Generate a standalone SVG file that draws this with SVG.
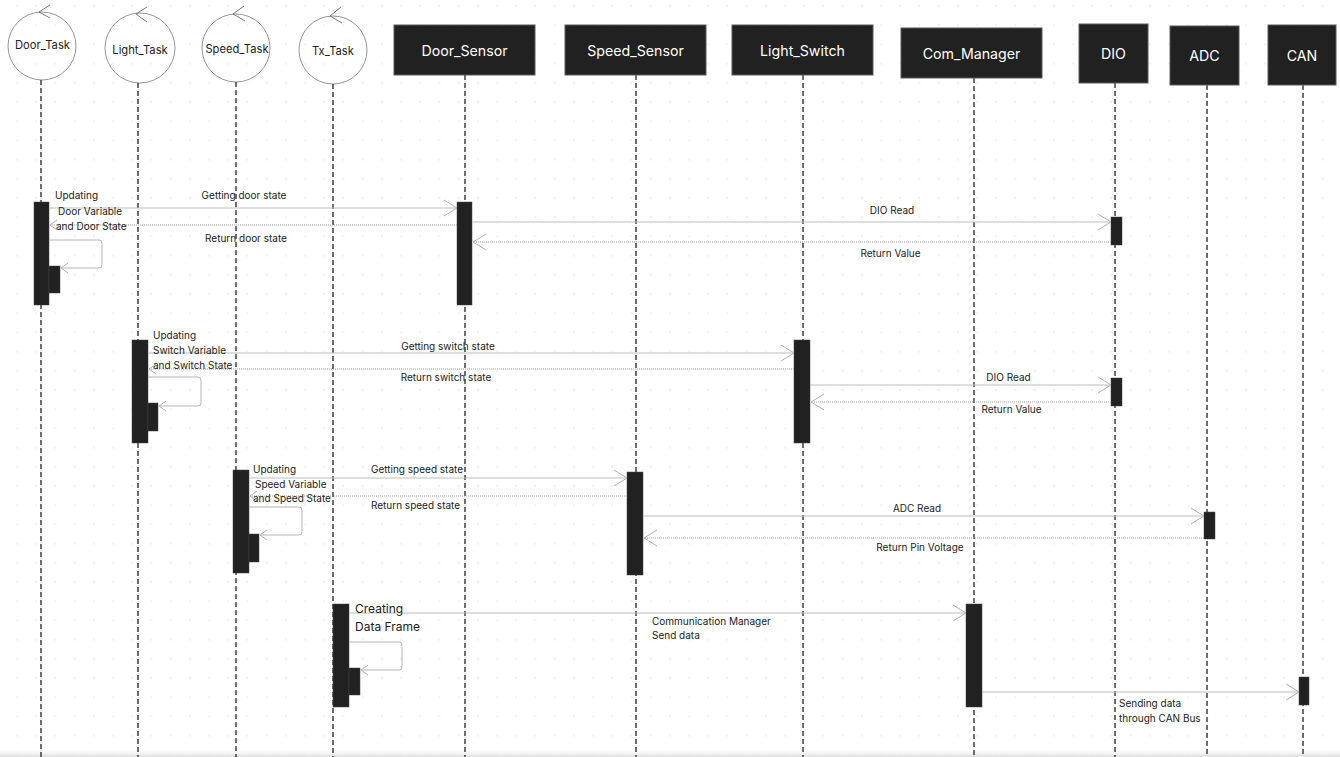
<svg xmlns="http://www.w3.org/2000/svg" width="1340" height="757" viewBox="0 0 1340 757">
<defs>
<pattern id="grid" x="7.5" y="-3.6" width="19.2" height="19.2" patternUnits="userSpaceOnUse">
<rect x="9.1" y="9.1" width="1" height="1" fill="#c9c9c9"/>
</pattern>
<linearGradient id="shade" x1="0" y1="0" x2="0" y2="1">
<stop offset="0" stop-color="#ffffff" stop-opacity="0"/>
<stop offset="1" stop-color="#dcdcdc"/>
</linearGradient>
<marker id="arr" markerUnits="userSpaceOnUse" markerWidth="16" markerHeight="18" refX="14" refY="9" orient="auto">
<path d="M1,1 L14,9 L1,17" fill="none" stroke="#b0b0b0" stroke-width="1"/>
</marker>
<marker id="arrS" markerUnits="userSpaceOnUse" markerWidth="10" markerHeight="12" refX="8" refY="6" orient="auto">
<path d="M1,1 L8,6 L1,11" fill="none" stroke="#b0b0b0" stroke-width="1"/>
</marker>
</defs>
<style>
.lbl{font-family:Inter,"Liberation Sans",sans-serif;font-size:10px;fill:#222}
.big{font-family:Inter,"Liberation Sans",sans-serif;font-size:12px;fill:#222}
.ctl{font-family:Inter,"Liberation Sans",sans-serif;font-size:11.2px;fill:#222;text-anchor:middle}
.box{fill:#212121;stroke:#5a5a5a;stroke-width:1}
.boxt{font-family:Inter,"Liberation Sans",sans-serif;font-size:14.2px;fill:#fff;text-anchor:middle}
.circ{fill:none;stroke:#8a8a8a;stroke-width:0.9}
.chev{fill:none;stroke:#6a6a6a;stroke-width:0.9}
.life{stroke:#222;stroke-width:1.3;stroke-dasharray:5 3;fill:none}
.bar{fill:#212121;stroke:#444;stroke-width:0.5}
.msg{stroke:#bdbdbd;stroke-width:1;fill:none}
.ret{stroke:#a0a0a0;stroke-width:1;stroke-dasharray:1 1;fill:none}
.self{stroke:#b5b5b5;stroke-width:1;fill:none}
.mid{text-anchor:middle}
</style>
<rect width="1340" height="757" fill="#fff"/>
<rect width="1340" height="757" fill="url(#grid)"/>
<rect x="0" y="748" width="1340" height="9" fill="url(#shade)"/>

<g id="Door_Task">
<circle class="circ" cx="42" cy="46" r="34"/>
<path class="chev" d="M50,5 L39,12 L50,18"/>
<text class="ctl" x="42.5" y="49">Door_Task</text>
<line class="life" x1="41" y1="80" x2="41" y2="757"/>
<rect class="bar" x="34" y="202" width="15" height="103"/>
<rect class="bar" x="49" y="266" width="11" height="27"/>
</g>
<g id="Light_Task">
<circle class="circ" cx="140" cy="48" r="35"/>
<path class="chev" d="M147,7 L136,14 L147,22"/>
<text class="ctl" x="140" y="54">Light_Task</text>
<line class="life" x1="138" y1="83" x2="138" y2="757"/>
<rect class="bar" x="132" y="340" width="16" height="103"/>
<rect class="bar" x="148" y="403" width="10" height="28"/>
</g>
<g id="Speed_Task">
<circle class="circ" cx="236" cy="48" r="34"/>
<path class="chev" d="M244,6 L233,14 L245,21"/>
<text class="ctl" x="237" y="53">Speed_Task</text>
<line class="life" x1="236" y1="82" x2="236" y2="757"/>
<rect class="bar" x="233" y="470" width="16" height="103"/>
<rect class="bar" x="249" y="534" width="10" height="28"/>
</g>
<g id="Tx_Task">
<circle class="circ" cx="333" cy="50" r="34"/>
<path class="chev" d="M341,7 L330,16 L342,23"/>
<text class="ctl" x="333" y="55">Tx_Task</text>
<line class="life" x1="333" y1="84" x2="333" y2="757"/>
<rect class="bar" x="333" y="604" width="16" height="103"/>
<rect class="bar" x="349" y="668" width="11" height="27"/>
</g>
<g id="Door_Sensor">
<line class="life" x1="465" y1="75" x2="465" y2="757"/>
<rect class="box" x="394" y="25" width="141" height="50"/>
<text class="boxt" x="464.5" y="56">Door_Sensor</text>
<rect class="bar" x="457" y="202" width="15" height="103"/>
</g>
<g id="Speed_Sensor">
<line class="life" x1="636" y1="75" x2="636" y2="757"/>
<rect class="box" x="565" y="25" width="141" height="50"/>
<text class="boxt" x="635.5" y="56">Speed_Sensor</text>
<rect class="bar" x="627" y="472" width="16" height="103"/>
</g>
<g id="Light_Switch">
<line class="life" x1="803" y1="75" x2="803" y2="757"/>
<rect class="box" x="732" y="25" width="141" height="50"/>
<text class="boxt" x="802.5" y="56">Light_Switch</text>
<rect class="bar" x="794" y="340" width="16" height="103"/>
</g>
<g id="Com_Manager">
<line class="life" x1="974" y1="78" x2="974" y2="757"/>
<rect class="box" x="901" y="28" width="141" height="50"/>
<text class="boxt" x="971.5" y="59">Com_Manager</text>
<rect class="bar" x="966" y="604" width="16" height="103"/>
</g>
<g id="DIO">
<line class="life" x1="1115" y1="83" x2="1115" y2="757"/>
<rect class="box" x="1079" y="24" width="69" height="59"/>
<text class="boxt" x="1113.5" y="59">DIO</text>
<rect class="bar" x="1111" y="217" width="11" height="28"/>
<rect class="bar" x="1111" y="378" width="11" height="28"/>
</g>
<g id="ADC">
<line class="life" x1="1207" y1="85" x2="1207" y2="757"/>
<rect class="box" x="1170" y="26" width="69" height="59"/>
<text class="boxt" x="1204.5" y="61">ADC</text>
<rect class="bar" x="1204" y="512" width="11" height="27"/>
</g>
<g id="CAN">
<line class="life" x1="1303" y1="85" x2="1303" y2="757"/>
<rect class="box" x="1268" y="25" width="68" height="60"/>
<text class="boxt" x="1302" y="61">CAN</text>
<rect class="bar" x="1299" y="677" width="10" height="28"/>
</g>

<g id="connectors">
<line class="msg" x1="49" y1="208" x2="457" y2="208" marker-end="url(#arr)"/>
<line class="ret" x1="457" y1="225" x2="50" y2="225" marker-end="url(#arrS)"/>
<path class="self" d="M49,240 H99 Q102,240 102,243 V265 Q102,268 99,268 H61" marker-end="url(#arrS)"/>
<line class="msg" x1="472" y1="222" x2="1111" y2="222" marker-end="url(#arr)"/>
<line class="ret" x1="1111" y1="242" x2="473" y2="242" marker-end="url(#arr)"/>

<line class="msg" x1="148" y1="353" x2="794" y2="353" marker-end="url(#arr)"/>
<line class="ret" x1="794" y1="369" x2="149" y2="369" marker-end="url(#arrS)"/>
<path class="self" d="M148,377 H198 Q201,377 201,380 V403 Q201,406 198,406 H159" marker-end="url(#arrS)"/>
<line class="msg" x1="810" y1="385" x2="1111" y2="385" marker-end="url(#arr)"/>
<line class="ret" x1="1111" y1="402" x2="811" y2="402" marker-end="url(#arr)"/>

<line class="msg" x1="249" y1="478" x2="627" y2="478" marker-end="url(#arr)"/>
<line class="ret" x1="627" y1="496" x2="250" y2="496" marker-end="url(#arrS)"/>
<path class="self" d="M249,507 H299 Q302,507 302,510 V532 Q302,535 299,535 H260" marker-end="url(#arrS)"/>
<line class="msg" x1="643" y1="516" x2="1204" y2="516" marker-end="url(#arr)"/>
<line class="ret" x1="1204" y1="538" x2="644" y2="538" marker-end="url(#arr)"/>

<line class="msg" x1="349" y1="613" x2="966" y2="613" marker-end="url(#arr)"/>
<path class="self" d="M349,642 H399 Q402,642 402,645 V667 Q402,670 399,670 H361" marker-end="url(#arrS)"/>
<line class="msg" x1="982" y1="692" x2="1299" y2="692" marker-end="url(#arr)"/>

<text class="lbl" x="55" y="199">Updating</text>
<text class="lbl" x="58" y="214.5">Door Variable</text>
<text class="lbl" x="56" y="230">and Door State</text>
<text class="lbl mid" x="244" y="198.5">Getting door state</text>
<text class="lbl mid" x="246" y="241.5">Return door state</text>
<text class="lbl mid" x="892" y="214">DIO Read</text>
<text class="lbl mid" x="890.5" y="256.5">Return Value</text>

<text class="lbl" x="153" y="339">Updating</text>
<text class="lbl" x="153" y="354">Switch Variable</text>
<text class="lbl" x="153" y="369">and Switch State</text>
<text class="lbl mid" x="448" y="350">Getting switch state</text>
<text class="lbl mid" x="446" y="380.5">Return switch state</text>
<text class="lbl mid" x="1008.5" y="380.5">DIO Read</text>
<text class="lbl mid" x="1011.5" y="412.5">Return Value</text>

<text class="lbl" x="253" y="473">Updating</text>
<text class="lbl" x="255" y="487.5">Speed Variable</text>
<text class="lbl" x="253" y="501.5">and Speed State</text>
<text class="lbl mid" x="417" y="473">Getting speed state</text>
<text class="lbl mid" x="415.5" y="509">Return speed state</text>
<text class="lbl mid" x="917" y="512">ADC Read</text>
<text class="lbl mid" x="920" y="551">Return Pin Voltage</text>

<text class="big" x="355" y="612.5">Creating</text>
<text class="big" x="355" y="630.5">Data Frame</text>
<text class="lbl" x="652" y="624.5">Communication Manager</text>
<text class="lbl" x="652" y="639">Send data</text>
<text class="lbl" x="1119" y="706.5">Sending data</text>
<text class="lbl" x="1119" y="721.5">through CAN Bus</text>
</g>
</svg>
